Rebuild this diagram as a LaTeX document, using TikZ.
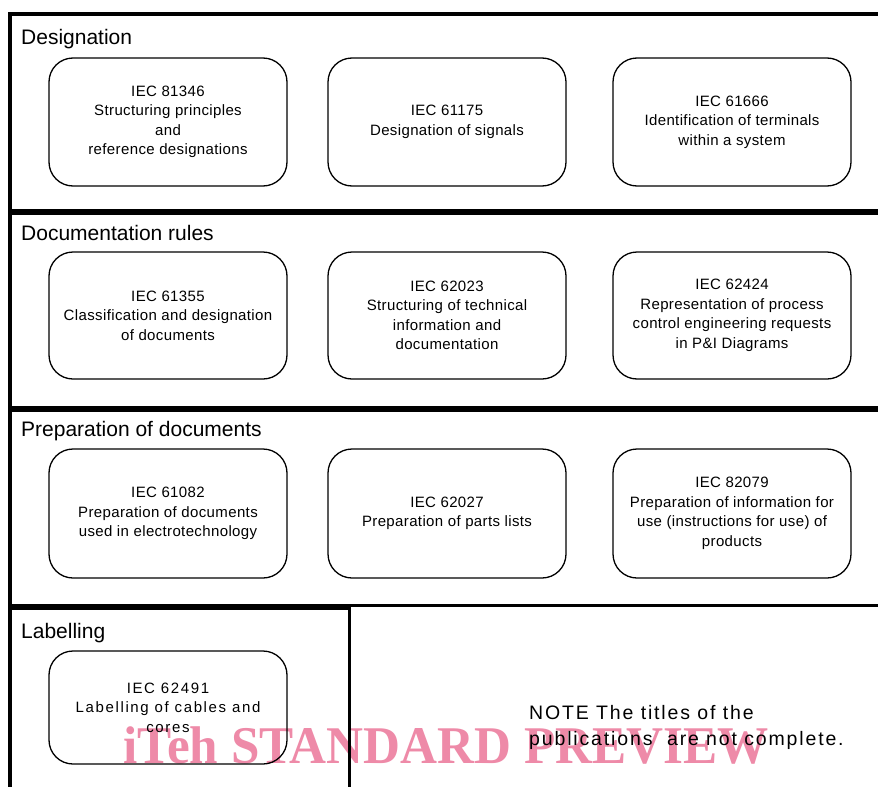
\documentclass[tikz,border=0pt]{standalone}
\usepackage{fontspec}
\setmainfont{Liberation Sans}
\newfontfamily\boxfont[LetterSpace=2.5]{Liberation Sans}
\newfontfamily\widefont[LetterSpace=11]{Liberation Sans}
\newfontfamily\notefont[LetterSpace=9.5]{Liberation Sans}
\newfontfamily\wmfont{Liberation Serif}
\definecolor{wmpink}{HTML}{EE8AA8}
\begin{document}
\begin{tikzpicture}[x=1pt,y=-1pt,
  stdbox/.style={draw=black, line width=1.3pt, rounded corners=24pt,
    minimum width=238pt, minimum height=128pt, align=center,
    font=\boxfont\fontsize{15}{19.5}\selectfont, inner sep=0pt},
  seclabel/.style={anchor=base west, inner sep=0pt, font=\fontsize{21}{25}\selectfont},
  notetext/.style={anchor=base west, inner sep=0pt, font=\notefont\fontsize{19.5}{26}\selectfont},
  frame/.style={line width=4pt, draw=black},
  sep/.style={line width=6pt, draw=black}]
\useasboundingbox (0,0) rectangle (878,787);
\fill[white] (0,0) rectangle (878,787);

% watermark (behind)
\node[anchor=base, inner sep=0pt, text=wmpink, xscale=0.965,
  font=\wmfont\bfseries\fontsize{53}{60}\selectfont] (wm) at (446,763) {iTeh STANDARD PREVIEW};

% frame
\coordinate (tl) at (9.5,14);
\coordinate (tr) at (878,14);
\coordinate (bl) at (9.5,787);
\draw[frame] (tr) -- (tl) -- (bl);
\coordinate (s1l) at (9.5,211.5); \coordinate (s1r) at (878,211.5);
\coordinate (s2l) at (9.5,408.5); \coordinate (s2r) at (878,408.5);
\draw[sep] (s1l) -- (s1r);
\draw[sep] (s2l) -- (s2r);
\coordinate (s3l) at (9.5,605.5); \coordinate (s3r) at (878,605.5);
\draw[line width=3.5pt] (s3l) -- (s3r);
\coordinate (lb1) at (9.5,608.5); \coordinate (lb2) at (349.5,608.5); \coordinate (lb3) at (349.5,787);
\draw[line width=3pt] (lb1) -- (lb2) -- (lb3);

% section labels
\node[seclabel] (l1) at (21,44) {Designation};
\node[seclabel] (l2) at (21,240) {Documentation rules};
\node[seclabel] (l3) at (21,436) {Preparation of documents};
\node[seclabel] (l4) at (21,638) {Labelling};

% row 1
\node[stdbox] (a1) at (168,122) {IEC 81346\\Structuring principles\\and\\reference designations};
\node[stdbox] (a2) at (447,122) {IEC 61175\\Designation of signals};
\node[stdbox] (a3) at (732,122) {IEC 61666\\Identification of terminals\\within a system};
% row 2
\node[stdbox, minimum height=127pt] (b1) at (168,315.5) {IEC 61355\\Classification and designation\\of documents};
\node[stdbox, minimum height=127pt] (b2) at (447,315.5) {IEC 62023\\Structuring of technical\\information and\\documentation};
\node[stdbox, minimum height=127pt] (b3) at (732,315.5) {IEC 62424\\Representation of process\\control engineering requests\\in P\&I Diagrams};
% row 3
\node[stdbox, minimum height=129pt] (c1) at (168,513.5) {IEC 61082\\Preparation of documents\\used in electrotechnology};
\node[stdbox, minimum height=129pt] (c2) at (447,513.5) {IEC 62027\\Preparation of parts lists};
\node[stdbox, minimum height=129pt] (c3) at (732,513.5) {IEC 82079\\Preparation of information for\\use (instructions for use) of\\products};
% row 4
\node[stdbox, minimum height=113pt, font=\widefont\fontsize{15}{19.5}\selectfont] (d1) at (168,707.5) {IEC 62491\\Labelling of cables and\\cores};

% note
\node[notetext] (n1) at (529,719) {NOTE The titles of the};
\node[notetext] (n2) at (529,745) {publications\ \ are not complete.};
\end{tikzpicture}
\end{document}
